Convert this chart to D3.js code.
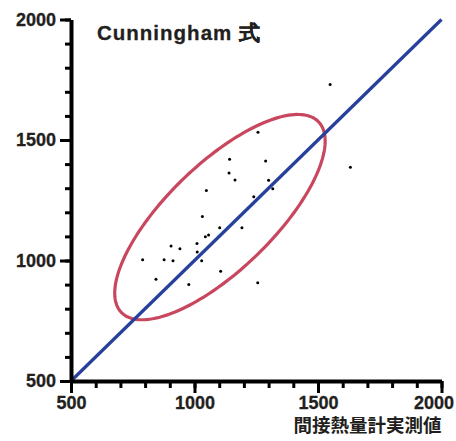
<!DOCTYPE html>
<html>
<head>
<meta charset="utf-8">
<script src="https://cdn.jsdelivr.net/npm/d3@7"></script>
<style>
  body { margin: 0; background: #fff; }
  svg { display: block; }
</style>
</head>
<body>
<script>
// measured (x) vs Cunningham-estimated (y) values
const measured = [1549, 1257, 1142, 1288, 1140, 1164, 1300, 1317, 1048, 1240, 1631, 1032, 1102, 1192,
    1057, 1044, 905, 941, 1010, 1011, 790, 877, 913, 1029, 1106, 844, 977, 1256];
const estimated = [1730, 1532, 1420, 1413, 1363, 1334, 1333, 1298, 1290, 1265, 1387, 1183, 1136, 1136,
    1106, 1099, 1060, 1049, 1071, 1035, 1003, 1003, 999, 999, 955, 922, 900, 908];

const majorTicks = [500, 1000, 1500, 2000];
const minorTicks = d3.range(500, 2001, 100);

const title = 'Cunningham 式';
const xTitle = '間接熱量計実測値';

// ellipse (data units)
const ellCx = 1103;
const ellCy = 1180;
const ellA = 562;
const ellB = 217;
const ellAngle = Math.PI / 4;

const width = 456;
const height = 441;
const ink = '#231f20';

const svg = d3.select('body')
    .append('svg')
    .attr('width', width)
    .attr('height', height);

const x = d3.scaleLinear().domain([500, 2000]).range([71, 441.5]);
const y = d3.scaleLinear().domain([500, 2000]).range([381, 19.5]);

// ellipse
const ellPoints = d3.range(0, 361, 2).map(deg => {
    const t = deg * Math.PI / 180;
    const u = ellA * Math.cos(t);
    const v = ellB * Math.sin(t);
    return [
        ellCx + u * Math.cos(ellAngle) - v * Math.sin(ellAngle),
        ellCy + u * Math.sin(ellAngle) + v * Math.cos(ellAngle)
    ];
});

svg.append('path')
    .attr('d', d3.line().x(d => x(d[0])).y(d => y(d[1])).curve(d3.curveLinearClosed)(ellPoints))
    .attr('fill', 'none')
    .attr('stroke', '#c8475f')
    .attr('stroke-width', 3.2);

// identity line
svg.append('path')
    .attr('d', d3.line().x(d => x(d)).y(d => y(d))([500, 2000]))
    .attr('fill', 'none')
    .attr('stroke', '#26409b')
    .attr('stroke-width', 3.2);

// points
svg.append('g')
    .selectAll('circle')
    .data(measured.map((m, i) => [m, estimated[i]]))
    .join('circle')
    .attr('cx', d => x(d[0]))
    .attr('cy', d => y(d[1]))
    .attr('r', 1.5)
    .attr('fill', '#000');

// axes: minor ticks
svg.append('g')
    .attr('transform', `translate(0,${y(500)})`)
    .call(d3.axisBottom(x).tickValues(minorTicks).tickSize(7).tickFormat(''))
    .call(g => g.select('.domain').remove())
    .call(g => g.selectAll('line').attr('stroke', '#000').attr('stroke-width', 3));

svg.append('g')
    .attr('transform', `translate(${x(500)},0)`)
    .call(d3.axisLeft(y).tickValues(minorTicks).tickSize(6).tickFormat(''))
    .call(g => g.select('.domain').remove())
    .call(g => g.selectAll('line').attr('stroke', '#000').attr('stroke-width', 3));

// axes: major ticks
const fmt = d3.format('d');
const xAxis = svg.append('g')
    .attr('transform', `translate(0,${y(500)})`)
    .call(d3.axisBottom(x).tickValues(majorTicks).tickFormat(fmt).tickSize(12).tickSizeOuter(0).tickPadding(3));

const yAxis = svg.append('g')
    .attr('transform', `translate(${x(500)},0)`)
    .call(d3.axisLeft(y).tickValues(majorTicks).tickFormat(fmt).tickSize(11).tickSizeOuter(0).tickPadding(4));

[xAxis, yAxis].forEach(g => {
    g.select('.domain').attr('stroke', '#000').attr('stroke-width', 4);
    g.selectAll('line').attr('stroke', '#000').attr('stroke-width', 3);
    g.selectAll('text')
        .attr('fill', ink)
        .attr('stroke', ink)
        .attr('stroke-width', 0.3)
        .style('font-family', '"Liberation Sans", Arial, sans-serif')
        .style('font-size', '18px')
        .style('font-weight', 'bold');
});

// keep the last x label inside the frame
xAxis.selectAll('.tick text').filter(d => d === 2000).attr('dx', -8);

svg.append('text')
    .attr('x', 97)
    .attr('y', 39.5)
    .attr('fill', ink)
    .attr('stroke', ink)
    .attr('stroke-width', 0.3)
    .style('font-family', '"Liberation Sans", Arial, sans-serif')
    .style('font-size', '20.5px')
    .style('font-weight', 'bold')
    .style('letter-spacing', '1px')
    .text(title);

svg.append('text')
    .attr('x', 441.5)
    .attr('y', 432)
    .attr('text-anchor', 'end')
    .attr('fill', ink)
    .style('font-family', '"Noto Sans CJK JP", sans-serif')
    .style('font-size', '18.5px')
    .style('font-weight', 'bold')
    .text(xTitle);
</script>
</body>
</html>
